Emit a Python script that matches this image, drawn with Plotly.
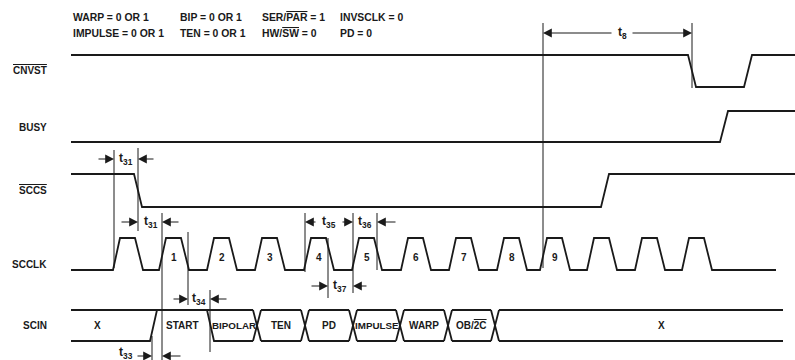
import plotly.graph_objects as go

# ---------------- data ----------------
# Mode settings printed above the diagram (two rows, four columns)
header_row1 = ["WARP = 0 OR 1", "BIP = 0 OR 1", "SER/<span style='text-decoration:overline'>PAR</span> = 1", "INVSCLK = 0"]
header_row2 = ["IMPULSE = 0 OR 1", "TEN = 0 OR 1", "HW/<span style='text-decoration:overline'>SW</span> = 0", "PD = 0"]

# Signal names (active-low names carry an overbar)
signal_names = ["CNVST", "BUSY", "SCCS", "SCCLK", "SCIN"]
active_low = [True, False, True, False, False]

# Transition times (time axis units) for each digital line
cnvst_edges = [688, 744]      # falls, then rises
busy_edges = [720]            # rises
sccs_edges = [134, 601]       # falls, then rises
sclk_rises = [113, 159, 207, 255, 304, 352, 401, 449, 497, 540, 587, 635, 682]
sclk_numbers = ["", "1", "2", "3", "4", "5", "6", "7", "8", "9", "", "", ""]

# Serial configuration word on SCIN
scin_bits = ["X", "START", "BIPOLAR", "TEN", "PD", "IMPULSE", "WARP",
             "OB/<span style='text-decoration:overline'>2C</span>", "X"]
scin_bounds = [154, 210, 257, 305, 353, 400, 448, 495]

# Timing parameter subscripts
timing_labels = ["8", "31", "31", "35", "36", "37", "34", "33"]

# ---------------- layout constants ----------------
W, H = 795, 360
T_START, T_END = 71, 795
LANE = {  # (high level, low level)
    "CNVST": (55, 87),
    "BUSY": (111, 142),
    "SCCS": (174, 207),
    "SCCLK": (238, 270),
    "SCIN": (310, 341),
}
LABEL_Y = {"CNVST": 70, "BUSY": 127, "SCCS": 190, "SCCLK": 264, "SCIN": 325}
INK = "#1a1a1a"
FONT = "Liberation Sans, Arial, sans-serif"
SIG_W = 1.8
MARK_W = 1.0

fig = go.Figure()


def add_line(xs, ys, width=SIG_W):
    fig.add_trace(go.Scatter(x=xs, y=ys, mode="lines",
                             line=dict(color=INK, width=width),
                             hoverinfo="skip", showlegend=False))


def digital(edges, start_high, lane, x0, x1, slew=8):
    hi, lo = LANE[lane]
    level = start_high
    xs, ys = [x0], [hi if level else lo]
    for e in edges:
        xs += [e, e + slew]
        ys += [hi if level else lo, lo if level else hi]
        level = not level
    xs.append(x1)
    ys.append(hi if level else lo)
    add_line(xs, ys)


digital(cnvst_edges, True, "CNVST", T_START, T_END)
digital(busy_edges, False, "BUSY", T_START, T_END)
digital(sccs_edges, True, "SCCS", T_START, T_END)

# Serial clock: trapezoidal pulses
hi, lo = LANE["SCCLK"]
xs, ys = [T_START], [lo]
for r in sclk_rises:
    xs += [r, r + 7, r + 22, r + 30]
    ys += [lo, hi, hi, lo]
xs.append(776)
ys.append(lo)
add_line(xs, ys)
for r, n in zip(sclk_rises, sclk_numbers):
    if n:
        fig.add_annotation(x=r + 15, y=257, text="<b>%s</b>" % n, showarrow=False,
                           font=dict(family=FONT, size=10, color=INK))

# SCIN bus
top, bot = LANE["SCIN"]
mid = (top + bot) / 2
b0, b1 = scin_bounds[0], scin_bounds[1]
hw = 4
SCIN_END = 783
# X -> START: bottom edge swings up to the top line
add_line([T_START, b0 - 4, b0 + 3], [bot, bot, top])
# top line running through START and BIPOLAR
add_line([T_START, scin_bounds[2] - hw], [top, top])
# START -> BIPOLAR: slash down, then BIPOLAR bottom line
add_line([b1 - 3, b1 + 4, scin_bounds[2] - hw], [top, bot, bot])
cross = scin_bounds[2:]
for i, b in enumerate(cross):
    add_line([b - hw, b, b - hw], [top, mid, bot])
    add_line([b + hw, b, b + hw], [top, mid, bot])
    nxt = cross[i + 1] - hw if i + 1 < len(cross) else SCIN_END
    add_line([b + hw, nxt], [top, top])
    add_line([b + hw, nxt], [bot, bot])

# SCIN cell labels
label_x = [97] + [(scin_bounds[i] + scin_bounds[i + 1]) / 2 for i in range(len(scin_bounds) - 1)] + [661]
for txt, lx in zip(scin_bits, label_x):
    plain = txt.replace("<span style='text-decoration:overline'>", "").replace("</span>", "")
    size = 9.8 if len(plain) > 5 else 10
    fig.add_annotation(x=lx, y=mid, text="<b>%s</b>" % txt, showarrow=False,
                       font=dict(family=FONT, size=size, color=INK))

# Signal names
for name, low in zip(signal_names, active_low):
    txt = "<span style='text-decoration:overline'>%s</span>" % name if low else name
    fig.add_annotation(x=49, y=LABEL_Y[name], text="<b>%s</b>" % txt, showarrow=False,
                       xanchor="right", font=dict(family=FONT, size=10, color=INK))

# Header settings
cols = [71, 178, 260, 338]
for row, yy in ((header_row1, 17), (header_row2, 33)):
    for txt, cx in zip(row, cols):
        fig.add_annotation(x=cx, y=yy, text="<b>%s</b>" % txt, showarrow=False,
                           xanchor="left", font=dict(family=FONT, size=10.4, color=INK))

# Reference (extension) lines for timing measurements
ext_lines = [(114, 150, 268), (138, 148, 231), (162, 213, 360), (188, 232, 305),
             (210, 290, 352), (152, 336, 360), (305, 213, 272), (353, 213, 293),
             (377, 213, 270), (328, 238, 298), (543, 23, 268), (692, 23, 88)]
for x, y0, y1 in ext_lines:
    fig.add_shape(type="line", x0=x, x1=x, y0=y0, y1=y1, xref="x", yref="y",
                  line=dict(color=INK, width=MARK_W))

# Dimension arrows: (tail, tip, y)
arrows = [(613, 543, 33), (631, 692, 33),
          (97, 114, 159), (155, 138, 159),
          (120, 138, 222), (180, 162, 222),
          (317, 305, 222), (341, 353, 222),
          (397, 377, 222),
          (310, 328, 286), (368, 353, 286),
          (172, 188, 299), (228, 210, 299),
          (136, 152, 356), (182, 162, 356)]
for tail, tip, yy in arrows:
    fig.add_annotation(x=tip, y=yy, ax=tail, ay=yy, xref="x", yref="y",
                       axref="x", ayref="y", text="", showarrow=True,
                       arrowhead=2, arrowsize=1.6, arrowwidth=1.1,
                       arrowcolor=INK, standoff=0)

label_pos = [(622, 33), (126, 159), (151, 222), (329, 222), (365, 222),
             (340, 286), (199, 299), (126, 353)]
for sub, (lx, ly) in zip(timing_labels, label_pos):
    fig.add_annotation(x=lx, y=ly, text="<b>t<sub>%s</sub></b>" % sub, showarrow=False,
                       font=dict(family=FONT, size=12, color=INK))

fig.update_layout(
    width=W, height=H,
    margin=dict(l=0, r=0, t=0, b=0),
    paper_bgcolor="white", plot_bgcolor="white",
    xaxis=dict(range=[0, W], visible=False, fixedrange=True),
    yaxis=dict(range=[H, 0], visible=False, fixedrange=True),
    showlegend=False,
)

fig.write_html("out.html")
